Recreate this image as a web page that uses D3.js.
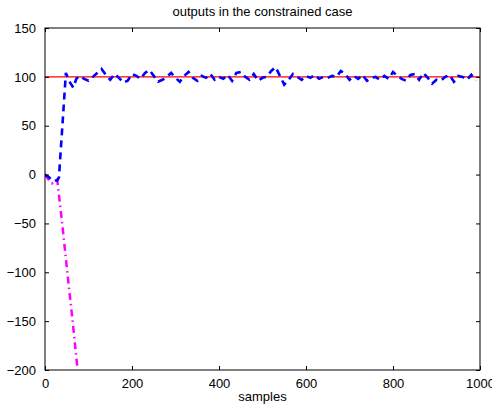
<!DOCTYPE html>
<html>
<head>
<meta charset="utf-8">
<script src="https://cdn.jsdelivr.net/npm/d3@7"></script>
<style>
  body { margin: 0; background: #fff; }
  text { font-family: "Liberation Sans", Arial, sans-serif; font-size: 13px; fill: #000; }
</style>
</head>
<body>
<div class="chart"></div>
<script>
// blue output (dashed), sample index and value
const blueSamples = [0, 10, 16, 28, 32, 40, 48, 55, 65, 72, 80, 90, 100, 110, 120, 130, 140, 150, 160, 170,
    180, 190, 200, 210, 220, 230, 240, 250, 260, 270, 280, 290, 300, 310, 320, 330, 340, 350, 360, 370,
    380, 390, 400, 410, 420, 430, 440, 450, 460, 470, 480, 490, 500, 510, 520, 530, 540, 550, 560, 570,
    580, 590, 600, 610, 620, 630, 640, 650, 660, 670, 680, 690, 700, 710, 720, 730, 740, 750, 760, 770,
    780, 790, 800, 810, 820, 830, 840, 850, 860, 870, 880, 890, 900, 910, 920, 930, 940, 950, 960, 970,
    980, 990];
const blueValues = [0, -3, -6, -6, -3, 50, 104, 96, 89, 98, 101, 98, 96, 100, 104, 108, 102, 97, 103, 99,
    94, 96, 103, 101, 98, 104, 107, 101, 95, 97, 100, 104, 99, 95, 101, 105, 99, 96, 101, 99,
    103, 97, 100, 98, 102, 96, 104, 105, 100, 97, 103, 96, 99, 100, 106, 110, 101, 92, 97, 103,
    100, 97, 101, 99, 102, 98, 100, 99, 101, 100, 106, 103, 97, 101, 98, 102, 96, 99, 100, 97,
    101, 98, 105, 101, 98, 96, 102, 103, 97, 104, 99, 93, 97, 96, 100, 102, 95, 101, 100, 97,
    102, 96];

// magenta output (dash-dot)
const magentaSamples = [0, 8, 16, 22, 28, 40, 52, 64, 74];
const magentaValues = [0, -5, -9, -7, -5, -52, -103, -152, -196];

// red reference
const refSamples = [0, 1000];
const refValues = [100, 100];

const xTicks = [0, 200, 400, 600, 800, 1000];
const yTicks = [150, 100, 50, 0, -50, -100, -150, -200];

const chartTitle = "outputs in the constrained case";
const xLabel = "samples";

const totalWidth = 492, totalHeight = 407;
const margin = { top: 28, right: 12, bottom: 37, left: 45 };
const width = totalWidth - margin.left - margin.right;
const height = totalHeight - margin.top - margin.bottom;

const svg = d3.select(".chart")
    .append("svg")
    .attr("width", totalWidth)
    .attr("height", totalHeight);

const g = svg.append("g")
    .attr("transform", `translate(${margin.left},${margin.top})`);

const x = d3.scaleLinear().domain([0, 1000]).range([0, width]);
const y = d3.scaleLinear().domain([-200, 150]).range([height, 0]);

g.append("clipPath")
    .attr("id", "plot-clip")
    .append("rect")
    .attr("width", width)
    .attr("height", height);

const line = d3.line()
    .x(d => x(d[0]))
    .y(d => y(d[1]));

const plot = g.append("g").attr("clip-path", "url(#plot-clip)");

plot.append("path")
    .datum(refSamples.map((s, i) => [s, refValues[i]]))
    .attr("d", line)
    .attr("fill", "none")
    .attr("stroke", "#ff0000")
    .attr("stroke-width", 1.2);

plot.append("path")
    .datum(magentaSamples.map((s, i) => [s, magentaValues[i]]))
    .attr("d", line)
    .attr("fill", "none")
    .attr("stroke", "#ff00ff")
    .attr("stroke-width", 2.5)
    .attr("stroke-dasharray", "7,4,1.5,4");

plot.append("path")
    .datum(blueSamples.map((s, i) => [s, blueValues[i]]))
    .attr("d", line)
    .attr("fill", "none")
    .attr("stroke", "#0000ff")
    .attr("stroke-width", 2.6)
    .attr("stroke-dasharray", "7,5");

// axes, ticks pointing inward on all four sides
const xAxis = g.append("g")
    .attr("transform", `translate(0,${height})`)
    .call(d3.axisBottom(x).tickValues(xTicks).tickSizeInner(-4).tickSizeOuter(0).tickPadding(9)
        .tickFormat(d3.format("d")));

const yAxis = g.append("g")
    .call(d3.axisLeft(y).tickValues(yTicks).tickSizeInner(-4).tickSizeOuter(0).tickPadding(9)
        .tickFormat(d => d < 0 ? "\u2212" + Math.abs(d) : d));

g.append("g")
    .call(d3.axisTop(x).tickValues(xTicks).tickSizeInner(-4).tickSizeOuter(0).tickFormat(""));

g.append("g")
    .attr("transform", `translate(${width},0)`)
    .call(d3.axisRight(y).tickValues(yTicks).tickSizeInner(-4).tickSizeOuter(0).tickFormat(""));

g.selectAll(".domain").remove();
g.selectAll(".tick line").attr("stroke", "#000");
g.selectAll(".tick text")
    .style("font-family", "'Liberation Sans', Arial, sans-serif")
    .style("font-size", "13px")
    .attr("fill", "#000");

g.append("rect")
    .attr("width", width)
    .attr("height", height)
    .attr("fill", "none")
    .attr("stroke", "#000")
    .attr("stroke-width", 1);

svg.append("text")
    .attr("x", margin.left + width / 2)
    .attr("y", 16)
    .attr("text-anchor", "middle")
    .text(chartTitle);

svg.append("text")
    .attr("x", margin.left + width / 2)
    .attr("y", 401)
    .attr("text-anchor", "middle")
    .text(xLabel);
</script>
</body>
</html>
